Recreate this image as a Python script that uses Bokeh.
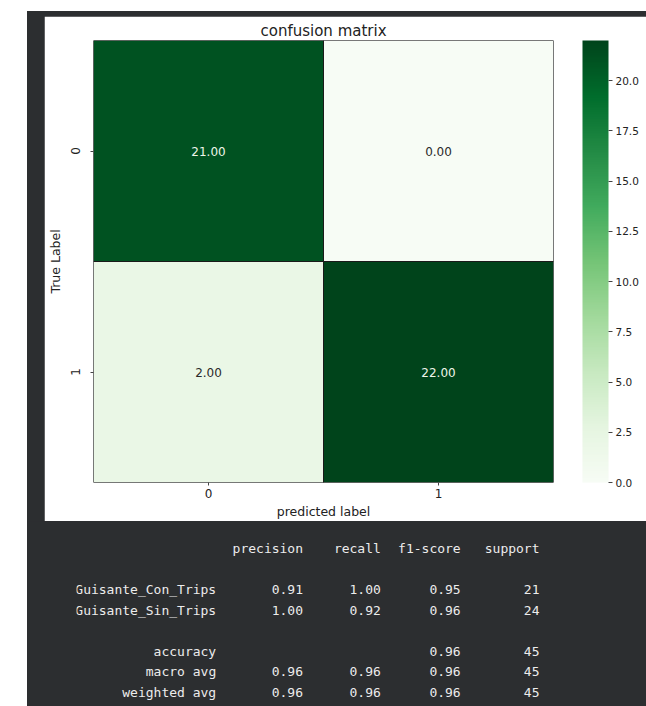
from bokeh.plotting import figure
from bokeh.models import (ColumnDataSource, LinearColorMapper, ColorBar, FixedTicker,
                          PrintfTickFormatter, Range1d, LabelSet, Title)
from bokeh.layouts import column
from bokeh.palettes import Greens256
from bokeh.transform import transform
from bokeh.core.properties import value
from bokeh.embed import file_html
from bokeh.resources import INLINE

# ---------------- data ----------------
axis_factors = ["0", "1"]
true_labels = ["0", "0", "1", "1"]
pred_labels = ["0", "1", "0", "1"]
cm_values = [21, 0, 2, 22]
cbar_low = 0
cbar_high = 22
colorbar_ticks = [0, 2.5, 5, 7.5, 10, 12.5, 15, 17.5, 20]

report_header = ["precision", "recall", "f1-score", "support"]
report_rows = ["Guisante_Con_Trips", "Guisante_Sin_Trips", "accuracy", "macro avg", "weighted avg"]
precision = [0.91, 1.00, None, 0.96, 0.96]
recall = [1.00, 0.92, None, 0.96, 0.96]
f1_score = [0.95, 0.96, 0.96, 0.96, 0.96]
support = [21, 24, 45, 45, 45]

# ---------------- styles ----------------
DARK = "#2c2e30"
TEXT_LIGHT = "#ececec"
FONT = "DejaVu Sans"
MONO = "DejaVu Sans Mono"
BORDER_L, BORDER_R = 48, 93

# ---------------- heatmap ----------------
mapper = LinearColorMapper(palette=list(reversed(Greens256)), low=cbar_low, high=cbar_high)
mid = (cbar_low + cbar_high) / 2.0
src = ColumnDataSource(dict(
    true=true_labels,
    pred=pred_labels,
    val=cm_values,
    label=["%.2f" % v for v in cm_values],
    tcolor=["#eef5ea" if v > mid else "#2a2a2a" for v in cm_values],
))

p = figure(x_range=axis_factors, y_range=list(reversed(axis_factors)),
           frame_width=460, frame_height=442,
           min_border_left=BORDER_L, min_border_right=BORDER_R,
           min_border_top=24, min_border_bottom=38,
           output_backend="svg", toolbar_location=None, title="confusion matrix",
           background_fill_color="white", border_fill_color="white",
           margin=(5, 0, 0, 17))
p.outline_line_color = None
p.grid.visible = False

p.rect(x="pred", y="true", width=1, height=1, source=src,
       fill_color=transform("val", mapper), line_color="#1a1a1a", line_width=1)
p.text(x="pred", y="true", text="label", source=src, text_color="tcolor",
       text_align="center", text_baseline="middle",
       text_font=value(FONT), text_font_size="12px")

p.title.align = "center"
p.title.text_font = FONT
p.title.text_font_size = "15px"
p.title.text_font_style = "normal"
p.title.text_color = "#222222"
p.title.standoff = 2

for ax in (p.xaxis[0], p.yaxis[0]):
    ax.axis_line_color = None
    ax.major_tick_in = 0
    ax.major_tick_out = 3
    ax.major_tick_line_color = "#444444"
    ax.minor_tick_line_color = None
    ax.major_label_text_font = FONT
    ax.major_label_text_font_size = "12px"
    ax.major_label_text_color = "#222222"
    ax.axis_label_text_font = FONT
    ax.axis_label_text_font_size = "12.5px"
    ax.axis_label_text_font_style = "normal"
    ax.axis_label_text_color = "#222222"

p.xaxis.axis_label = "predicted label"
p.xaxis.major_label_standoff = 3
p.xaxis.axis_label_standoff = 3
p.yaxis.axis_label = "True Label"
p.yaxis.major_label_orientation = "vertical"
p.yaxis.major_label_standoff = 11
p.yaxis.axis_label_standoff = 5

# blank spacer between the heatmap and the colour bar
p.add_layout(Title(text=" ", text_font_size="24.5px", standoff=0), "right")

cbar = ColorBar(color_mapper=mapper, ticker=FixedTicker(ticks=colorbar_ticks),
                formatter=PrintfTickFormatter(format="%.1f"),
                width=26, padding=0, margin=0,
                major_tick_in=0, major_tick_out=4, major_tick_line_color="#444444",
                minor_tick_line_color=None, bar_line_color=None,
                label_standoff=3, major_label_text_font=FONT,
                major_label_text_font_size="10.5px", major_label_text_color="#222222",
                background_fill_color=None, border_line_color=None)
p.add_layout(cbar, "right")

# ---------------- classification report ----------------
B_W, B_H = 618, 185
b = figure(width=B_W, height=B_H,
           x_range=Range1d(BORDER_L, B_W - BORDER_R), y_range=Range1d(B_H, 0),
           output_backend="svg", toolbar_location=None,
           min_border_left=BORDER_L, min_border_right=BORDER_R,
           min_border_top=0, min_border_bottom=0,
           x_axis_location=None, y_axis_location=None,
           background_fill_color=DARK, border_fill_color=DARK)
b.outline_line_color = None
b.grid.visible = False

col_right = [188, 275, 353, 433, 512]
line_top = 27
line_h = 20.5
row_lines = [2, 3, 5, 6, 7]


def fmt(v):
    return "" if v is None else "%.2f" % v


def add_text(xs, ys, texts):
    s = ColumnDataSource(dict(x=xs, y=ys, t=texts))
    b.add_layout(LabelSet(x="x", y="y", text="t", source=s, text_align="right",
                          text_baseline="middle", text_color=TEXT_LIGHT,
                          text_font=value(MONO), text_font_size="13px"))


add_text(col_right[1:], [line_top] * 4, report_header)

ys = [line_top + n * line_h for n in row_lines]
columns = [report_rows,
           [fmt(v) for v in precision],
           [fmt(v) for v in recall],
           [fmt(v) for v in f1_score],
           [str(v) for v in support]]
for xr, texts in zip(col_right, columns):
    add_text([xr] * len(texts), ys, texts)

layout = column(p, b, margin=(11, 0, 0, 27), styles={"background-color": DARK})

open("out.html", "w").write(file_html(layout, INLINE))
